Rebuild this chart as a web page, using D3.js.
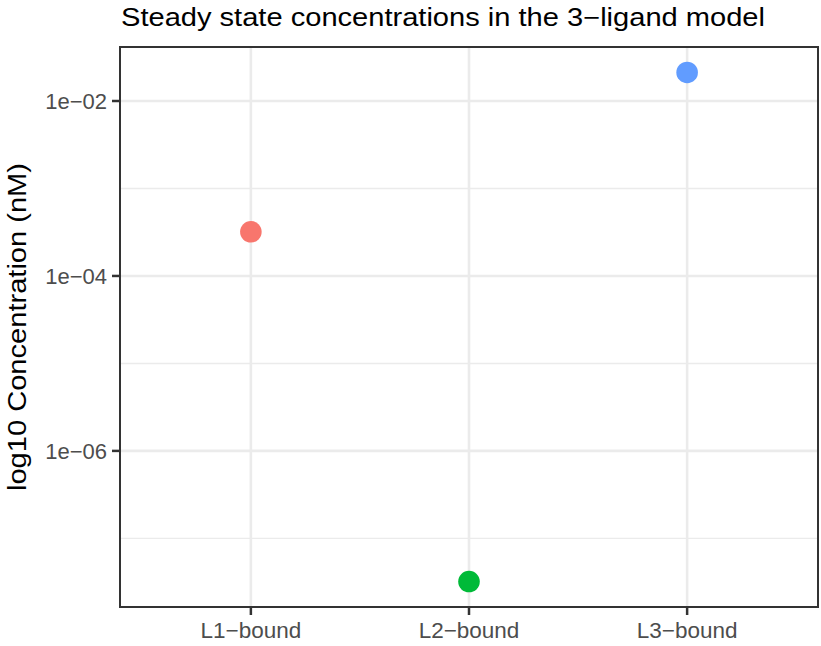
<!DOCTYPE html>
<html>
<head>
<meta charset="utf-8">
<script src="https://cdn.jsdelivr.net/npm/d3@7"></script>
<style>
  html, body { margin: 0; padding: 0; background: #fff; }
  svg { display: block; }
</style>
</head>
<body>
<svg id="chart" width="821" height="646"></svg>
<script>
// Steady-state concentrations (nM) per bound-ligand species
const categories = ["L1-bound", "L2-bound", "L3-bound"];
const categoryLabels = ["L1\u2212bound", "L2\u2212bound", "L3\u2212bound"];
const concentrations = [3.2e-4, 3.21e-8, 2.12e-2];
const colors = ["#F8766D", "#00BA38", "#619CFF"];
const yMajorTicks = [1e-6, 1e-4, 1e-2];
const yMajorLabels = ["1e\u221206", "1e\u221204", "1e\u221202"];
const yMinorTicks = [1e-7, 1e-5, 1e-3];

const W = 821, H = 646;
const panel = { left: 120, right: 818, top: 47, bottom: 607 };
const font = "'Liberation Sans', Arial, Helvetica, sans-serif";
const tickLen = 8;

const svg = d3.select("#chart");

// log scale with 5% padding of the log range, as ggplot does
const logs = concentrations.map(Math.log10);
const lo = d3.min(logs), hi = d3.max(logs), pad = (hi - lo) * 0.05;
const y = d3.scaleLog()
  .domain([Math.pow(10, lo - pad), Math.pow(10, hi + pad)])
  .range([panel.bottom, panel.top]);

// discrete x with 0.6 unit expansion on each side
const x = d3.scaleLinear()
  .domain([1 - 0.6, categories.length + 0.6])
  .range([panel.left, panel.right]);
const xPos = d => x(categories.indexOf(d) + 1);

const g = svg.append("g");

// panel background
g.append("rect")
  .attr("x", panel.left).attr("y", panel.top)
  .attr("width", panel.right - panel.left).attr("height", panel.bottom - panel.top)
  .attr("fill", "#fff");

// minor gridlines
g.selectAll(".minor").data(yMinorTicks).join("line")
  .attr("x1", panel.left).attr("x2", panel.right)
  .attr("y1", d => y(d)).attr("y2", d => y(d))
  .attr("stroke", "#EBEBEB").attr("stroke-width", 1.4);

// major gridlines
g.selectAll(".majorY").data(yMajorTicks).join("line")
  .attr("x1", panel.left).attr("x2", panel.right)
  .attr("y1", d => y(d)).attr("y2", d => y(d))
  .attr("stroke", "#EBEBEB").attr("stroke-width", 2.6);

g.selectAll(".majorX").data(categories).join("line")
  .attr("x1", d => xPos(d)).attr("x2", d => xPos(d))
  .attr("y1", panel.top).attr("y2", panel.bottom)
  .attr("stroke", "#EBEBEB").attr("stroke-width", 2.6);

// points
g.selectAll(".pt").data(categories).join("circle")
  .attr("cx", d => xPos(d))
  .attr("cy", (d, i) => y(concentrations[i]))
  .attr("r", 10.8)
  .attr("fill", (d, i) => colors[i]);

// panel border
g.append("rect")
  .attr("x", panel.left).attr("y", panel.top)
  .attr("width", panel.right - panel.left).attr("height", panel.bottom - panel.top)
  .attr("fill", "none").attr("stroke", "#333333").attr("stroke-width", 2);

// y ticks and labels
g.selectAll(".ytick").data(yMajorTicks).join("line")
  .attr("x1", panel.left - tickLen).attr("x2", panel.left)
  .attr("y1", d => y(d)).attr("y2", d => y(d))
  .attr("stroke", "#333333").attr("stroke-width", 2.5);

g.selectAll(".ylab").data(yMajorTicks).join("text")
  .attr("x", panel.left - tickLen - 5)
  .attr("y", d => y(d))
  .attr("dy", "0.36em")
  .attr("text-anchor", "end")
  .attr("font-family", font).attr("font-size", 22)
  .attr("fill", "#4D4D4D")
  .text((d, i) => yMajorLabels[i]);

// x ticks and labels
g.selectAll(".xtick").data(categories).join("line")
  .attr("x1", d => xPos(d)).attr("x2", d => xPos(d))
  .attr("y1", panel.bottom).attr("y2", panel.bottom + tickLen)
  .attr("stroke", "#333333").attr("stroke-width", 2.5);

g.selectAll(".xlab").data(categories).join("text")
  .attr("x", d => xPos(d))
  .attr("y", 638)
  .attr("text-anchor", "middle")
  .attr("font-family", font).attr("font-size", 22.5)
  .attr("fill", "#4D4D4D")
  .text((d, i) => categoryLabels[i]);

// y axis title
svg.append("text")
  .attr("transform", `translate(26, ${(panel.top + panel.bottom) / 2}) rotate(-90)`)
  .attr("text-anchor", "middle")
  .attr("font-family", font).attr("font-size", 25)
  .attr("textLength", 328).attr("lengthAdjust", "spacingAndGlyphs")
  .attr("fill", "#000")
  .text("log10 Concentration (nM)");

// plot title
svg.append("text")
  .attr("x", panel.left + 1)
  .attr("y", 26)
  .attr("font-family", font).attr("font-size", 25)
  .attr("textLength", 644).attr("lengthAdjust", "spacingAndGlyphs")
  .attr("fill", "#000")
  .text("Steady state concentrations in the 3\u2212ligand model");
</script>
</body>
</html>
